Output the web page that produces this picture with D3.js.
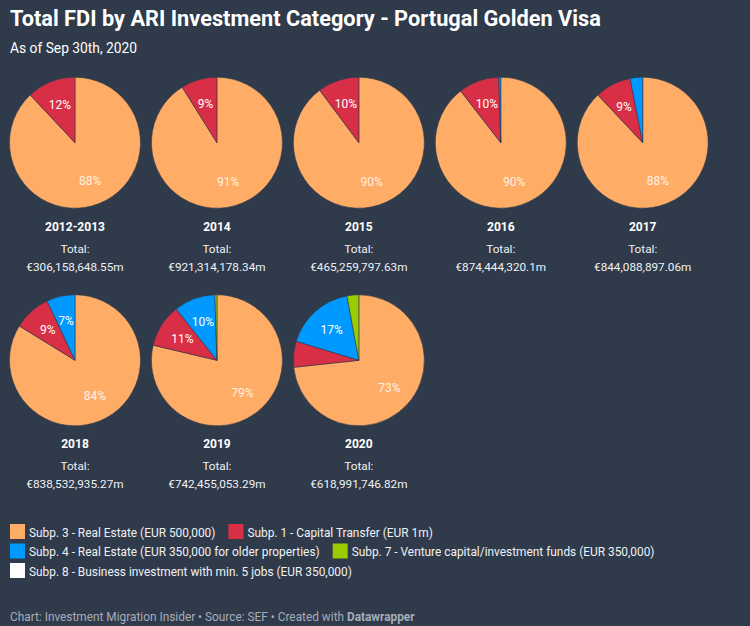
<!DOCTYPE html>
<html>
<head>
<meta charset="utf-8">
<script src="https://cdn.jsdelivr.net/npm/d3@7"></script>
<style>
html, body { margin: 0; padding: 0; background: #2f3a4b; }
svg { display: block; font-family: Roboto, sans-serif; }
</style>
</head>
<body>
<svg id="chart" width="750" height="626"></svg>
<script>
const titleText = "Total FDI by ARI Investment Category - Portugal Golden Visa";
const subtitleText = "As of Sep 30th, 2020";

const years = ["2012-2013", "2014", "2015", "2016", "2017", "2018", "2019", "2020"];
const totals = ["€306,158,648.55m", "€921,314,178.34m", "€465,259,797.63m", "€874,444,320.1m",
    "€844,088,897.06m", "€838,532,935.27m", "€742,455,053.29m", "€618,991,746.82m"];

// shares in percent
const subp3 = [88, 91.1, 89.8, 89.5, 88, 83.8, 78.7, 73.3];
const subp1 = [12, 8.9, 10.2, 10, 8.9, 9.2, 10.6, 6.4];
const subp4 = [0, 0, 0, 0.5, 3.1, 7, 10.2, 17.4];
const subp7 = [0, 0, 0, 0, 0, 0, 0.5, 2.9];
const subp8 = [0, 0, 0, 0, 0, 0, 0, 0];

const categories = ["Subp. 3 - Real Estate (EUR 500,000)", "Subp. 1 - Capital Transfer (EUR 1m)",
    "Subp. 4 - Real Estate (EUR 350,000 for older properties)", "Subp. 7 - Venture capital/investment funds (EUR 350,000)",
    "Subp. 8 - Business investment with min. 5 jobs (EUR 350,000)"];
const colors = ["#ffad66", "#d92f46", "#0099ff", "#99cc00", "#ffffff"];
const legendRows = [[0, 1], [2, 3], [4]];

const bg = "#2f3a4b";
const svg = d3.select("#chart");
svg.append("rect").attr("width", 750).attr("height", 626).attr("fill", bg);

svg.append("text").attr("x", 10).attr("y", 25.5).attr("fill", "#fff")
    .attr("font-size", 21.75).attr("font-weight", 700).text(titleText);
svg.append("text").attr("x", 10).attr("y", 53).attr("fill", "#fff")
    .attr("font-size", 13.8).text(subtitleText);

// five columns, two rows
const perRow = 5;
const xCol = d3.scalePoint().domain(d3.range(perRow)).range([75, 642.7]);
const yRow = d3.scalePoint().domain([0, 1]).range([142.7, 360.3]);
const radius = 65.5;
const labelR = 41;

const color = d3.scaleOrdinal().domain(d3.range(categories.length)).range(colors);
const pie = d3.pie().sort(null).value(d => d.v);
const arc = d3.arc().innerRadius(0).outerRadius(radius);
const labelArc = d3.arc().innerRadius(labelR).outerRadius(labelR);

years.forEach((year, i) => {
    const cells = [subp3, subp1, subp4, subp7, subp8].map((s, k) => ({ k, v: s[i] }));
    const g = svg.append("g")
        .attr("transform", `translate(${xCol(i % perRow)},${yRow(Math.floor(i / perRow))})`);
    const arcs = pie(cells).filter(d => d.data.v > 0);

    g.selectAll("path").data(arcs).join("path")
        .attr("d", arc)
        .attr("fill", d => color(d.data.k))
        .attr("stroke", bg).attr("stroke-width", 0.6);

    // small slices have no label
    g.selectAll("text.pct").data(arcs.filter(d => d.data.v >= 7)).join("text")
        .attr("class", "pct")
        .attr("transform", d => `translate(${labelArc.centroid(d)})`)
        .attr("text-anchor", "middle").attr("dy", "0.36em")
        .attr("font-size", 12).attr("fill", "#fff")
        .attr("fill-opacity", d => d.data.k === 0 ? 0.85 : 1)
        .text(d => Math.round(d.data.v) + "%");

    g.append("text").attr("y", 88).attr("text-anchor", "middle")
        .attr("fill", "#fff").attr("font-size", 12).attr("font-weight", 700).text(year);
    g.append("text").attr("y", 110).attr("text-anchor", "middle")
        .attr("fill", "#f0f1f3").attr("font-size", 11.75).text("Total:");
    g.append("text").attr("y", 128).attr("text-anchor", "middle")
        .attr("fill", "#f0f1f3").attr("font-size", 11.75).text(totals[i]);
});

// legend, items flow along each row
const legendY = d3.scalePoint().domain([0, 1, 2]).range([524, 563]);
legendRows.forEach((row, r) => {
    let x = 10;
    row.forEach(k => {
        const item = svg.append("g").attr("transform", `translate(${x},${legendY(r)})`);
        item.append("rect").attr("width", 15).attr("height", 15).attr("fill", colors[k]);
        const t = item.append("text").attr("x", 19).attr("y", 12.5)
            .attr("fill", "#f0f1f3").attr("font-size", 11.88).text(categories[k]);
        x += 19 + t.node().getComputedTextLength() + 13;
    });
});

const footer = svg.append("text").attr("x", 10).attr("y", 621)
    .attr("fill", "#a6adb7").attr("font-size", 11.85);
footer.append("tspan").text("Chart: Investment Migration Insider • Source: SEF • Created with ");
footer.append("tspan").attr("font-weight", 700).text("Datawrapper");
</script>
</body>
</html>
